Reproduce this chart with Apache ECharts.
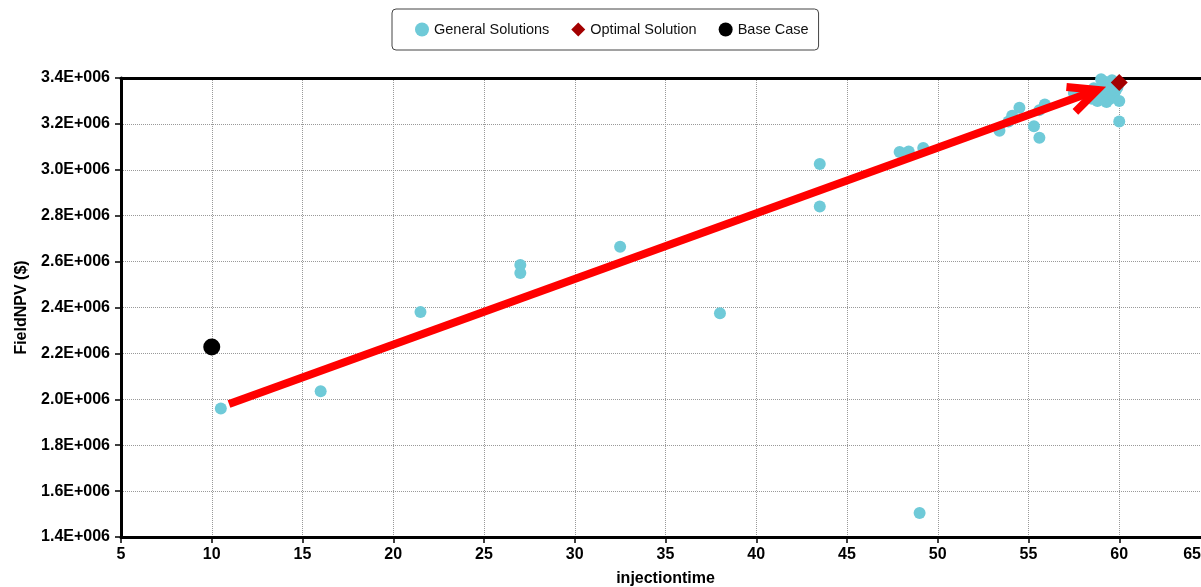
<!DOCTYPE html>
<html>
<head>
<meta charset="utf-8">
<script src="https://cdn.jsdelivr.net/npm/echarts@6/dist/echarts.min.js"></script>
<style>
  html, body { margin: 0; padding: 0; background: #fff; }
  #chart { width: 1201px; height: 587px; }
</style>
</head>
<body>
<div id="chart"></div>
<script>
// injectiontime vs FieldNPV ($)
var generalSolutions = [
  [10.5, 1.96e6], [16, 2.035e6], [21.5, 2.38e6], [27, 2.585e6], [27, 2.55e6],
  [32.5, 2.665e6], [38, 2.375e6], [43.5, 3.025e6], [43.5, 2.84e6],
  [47.9, 3.078e6], [48.4, 3.08e6], [49.2, 3.095e6], [49, 1.505e6],
  [53.4, 3.17e6], [53.9, 3.21e6], [54.1, 3.235e6], [54.5, 3.27e6],
  [55.3, 3.19e6], [55.6, 3.14e6], [55.6, 3.26e6], [55.9, 3.285e6],
  [57.5, 3.335e6], [58.2, 3.325e6], [58.5, 3.31e6], [58.6, 3.355e6],
  [58.8, 3.3e6], [58.9, 3.35e6], [58.9, 3.33e6], [59.0, 3.395e6],
  [59.1, 3.37e6], [59.2, 3.384e6], [59.3, 3.34e6], [59.3, 3.295e6],
  [59.4, 3.365e6], [59.5, 3.31e6], [59.6, 3.39e6], [59.7, 3.32e6],
  [59.8, 3.345e6], [59.9, 3.36e6], [60, 3.3e6], [60, 3.21e6]
];
var optimalSolution = [[60, 3.38e6]];
var baseCase = [[10, 2.228e6]];
// arrow annotation: start x, start y, end x, end y
var trendArrow = [[10.95, 1.98e6, 58.79, 3.348e6]];

var xTicks = { min: 5, max: 65, step: 5 };
var yTicks = { min: 1.4e6, max: 3.4e6, step: 0.2e6 };

var font = 'Arial, "Liberation Sans", sans-serif';
var chart = echarts.init(document.getElementById("chart"));

function arrowItem(params, api) {
  var p1 = api.coord([api.value(0), api.value(1)]);
  var p2 = api.coord([api.value(2), api.value(3)]);
  var ang = Math.atan2(p2[1] - p1[1], p2[0] - p1[0]);
  var len = 31, spread = 0.44;
  var a1 = [p2[0] - len * Math.cos(ang - spread), p2[1] - len * Math.sin(ang - spread)];
  var a2 = [p2[0] - len * Math.cos(ang + spread), p2[1] - len * Math.sin(ang + spread)];
  var st = { stroke: "#ff0000", lineWidth: 8, fill: null };
  return {
    type: "group",
    children: [
      { type: "line", shape: { x1: p1[0], y1: p1[1], x2: p2[0], y2: p2[1] }, style: st },
      { type: "polyline", shape: { points: [a1, p2, a2] }, style: { stroke: "#ff0000", lineWidth: 8, fill: null, lineJoin: "miter" } }
    ]
  };
}

chart.setOption({
  animation: false,
  textStyle: { fontFamily: font },
  legend: {
    left: 392,
    top: 9,
    padding: [13, 10, 13, 23],
    itemWidth: 14,
    itemHeight: 14,
    itemGap: 22,
    borderColor: "#444",
    borderWidth: 1,
    borderRadius: 4,
    textStyle: { fontSize: 14.5, color: "#111", fontFamily: font },
    data: [
      { name: "General Solutions", icon: "circle" },
      { name: "Optimal Solution", icon: "diamond" },
      { name: "Base Case", icon: "circle" }
    ]
  },
  grid: { left: 121, right: -9, top: 78, bottom: 50, outerBoundsMode: "none", containLabel: false },
  xAxis: [
    {
      type: "value",
      min: xTicks.min, max: xTicks.max, interval: xTicks.step,
      name: "injectiontime",
      nameLocation: "middle",
      nameGap: 34,
      nameTextStyle: { fontSize: 16, fontWeight: "bold", color: "#000", fontFamily: font },
      axisLine: { onZero: false, lineStyle: { color: "#000", width: 3 } },
      axisTick: { length: 6, lineStyle: { color: "#000", width: 1.5 } },
      axisLabel: {
        fontSize: 16, fontWeight: "bold", color: "#000", margin: 10,
        alignMaxLabel: "right",
        formatter: function (v) { return v === xTicks.max ? "{m|" + v + "}" : String(v); },
        rich: { m: { fontSize: 16, fontWeight: "bold", color: "#000", padding: [0, 9, 0, 0] } }
      },
      splitLine: { show: true, lineStyle: { color: "#999", type: "dotted", width: 1 } }
    },
    {
      type: "value",
      position: "top",
      min: xTicks.min, max: xTicks.max, interval: xTicks.step,
      axisLine: { show: true, onZero: false, lineStyle: { color: "#000", width: 3 } },
      axisTick: { show: false },
      axisLabel: { show: false },
      splitLine: { show: false }
    }
  ],
  yAxis: {
    type: "value",
    min: yTicks.min, max: yTicks.max, interval: yTicks.step,
    name: "FieldNPV ($)",
    nameLocation: "middle",
    nameGap: 91,
    nameTextStyle: { fontSize: 16, fontWeight: "bold", color: "#000", fontFamily: font },
    axisLine: { show: true, onZero: false, lineStyle: { color: "#000", width: 3 } },
    axisTick: { show: true, length: 6, lineStyle: { color: "#000", width: 1.5 } },
    axisLabel: {
      fontSize: 16, fontWeight: "bold", color: "#000", margin: 11,
      formatter: function (v) { return (v / 1e6).toFixed(1) + "E+006"; }
    },
    splitLine: { show: true, lineStyle: { color: "#999", type: "dotted", width: 1 } }
  },
  series: [
    {
      name: "General Solutions",
      type: "scatter",
      symbol: "circle",
      symbolSize: 12,
      itemStyle: { color: "#6fcad8", opacity: 1 },
      data: generalSolutions,
      z: 2
    },
    {
      name: "trend",
      type: "custom",
      renderItem: arrowItem,
      encode: { x: [0, 2], y: [1, 3] },
      data: trendArrow,
      silent: true,
      z: 3
    },
    {
      name: "Optimal Solution",
      type: "scatter",
      symbol: "diamond",
      symbolSize: 17,
      itemStyle: { color: "#a30000", opacity: 1 },
      data: optimalSolution,
      z: 4
    },
    {
      name: "Base Case",
      type: "scatter",
      symbol: "circle",
      symbolSize: 17,
      itemStyle: { color: "#000", opacity: 1 },
      data: baseCase,
      z: 4
    }
  ]
});
</script>
</body>
</html>
